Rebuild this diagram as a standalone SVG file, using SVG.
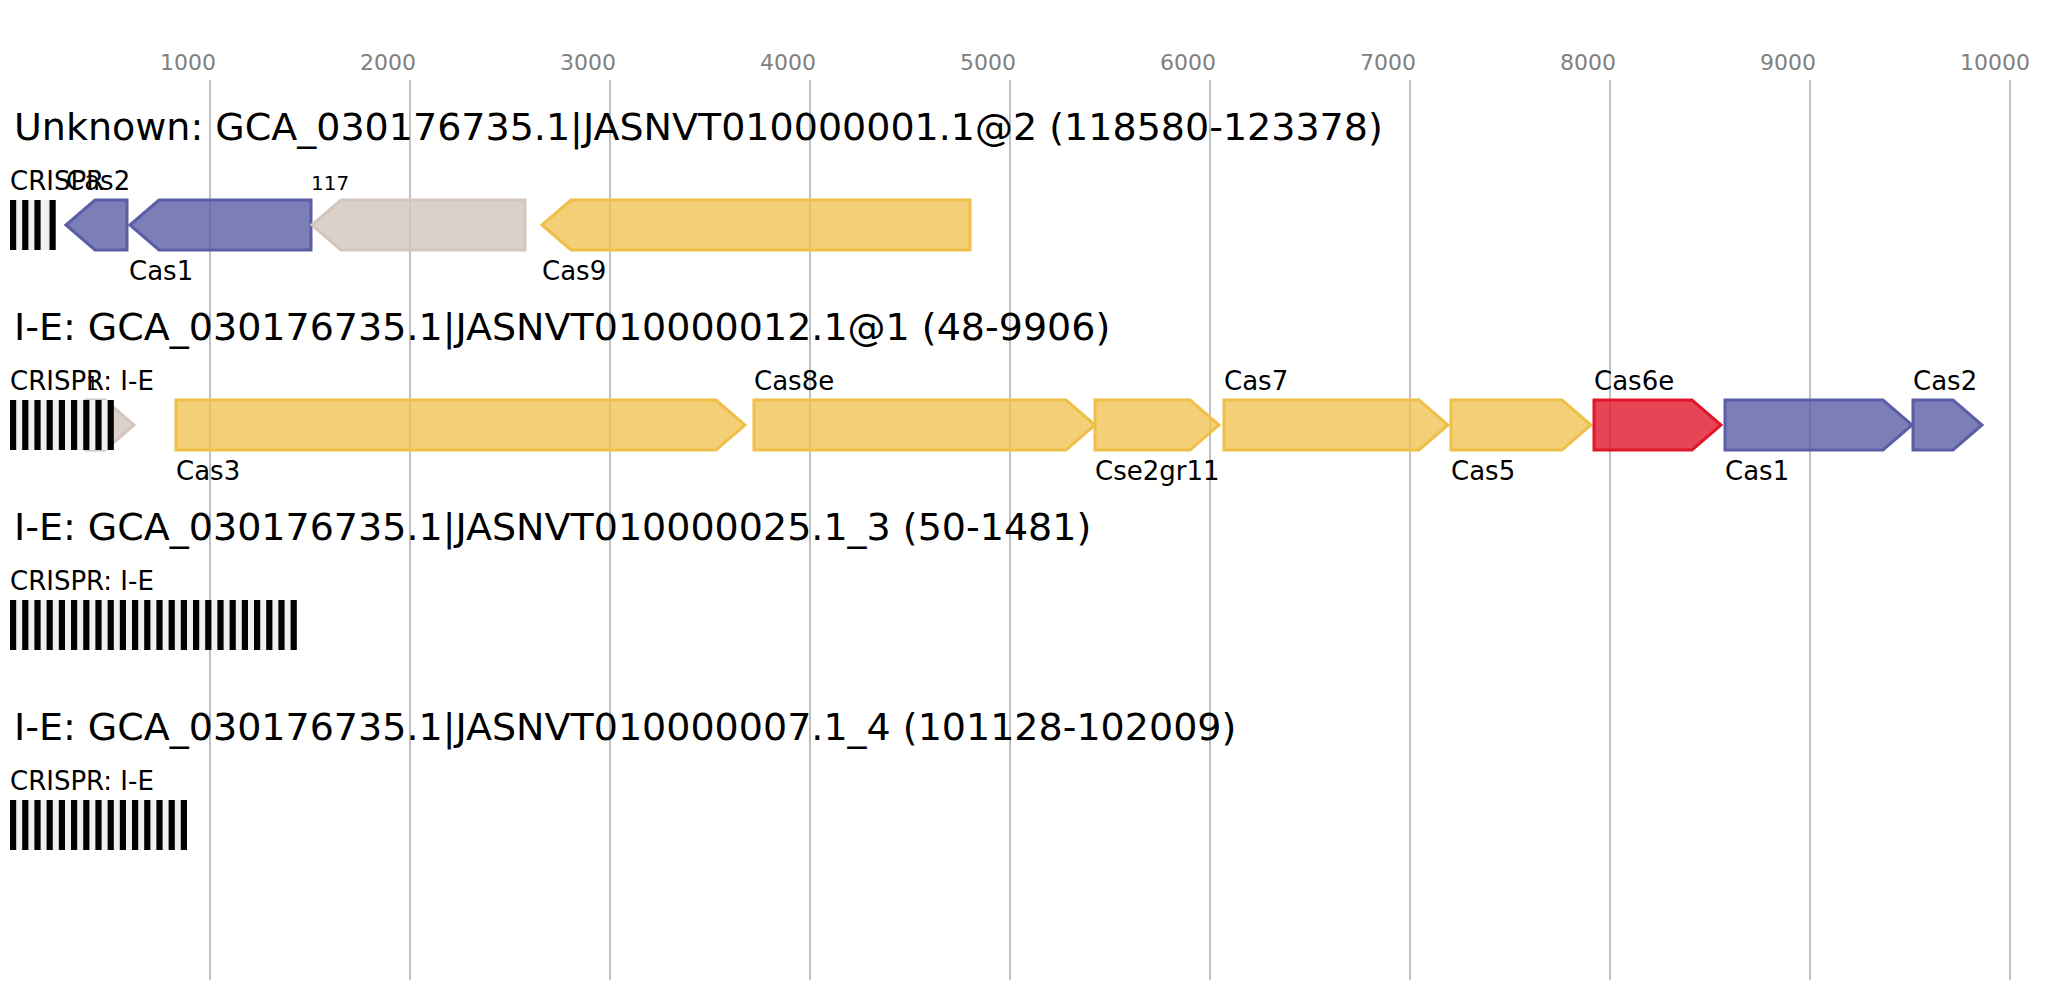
<svg xmlns="http://www.w3.org/2000/svg" width="2072" height="1000" viewBox="0 0 2072 1000">
<style>
text{font-family:"DejaVu Sans","Liberation Sans",sans-serif;fill:#000}
.ax{font-size:22px;fill:#808080}
.grid line{stroke:#c0c0c0;stroke-width:2}
.title{font-size:38px}
.lbl{font-size:26px}
.sm{font-size:20px}
.gene{stroke-width:3;stroke-linejoin:miter}
.blue{fill:#5b5ea6;fill-opacity:0.8;stroke:#5b5ea6}
.yel{fill:#efbf4a;fill-opacity:0.75;stroke:#efbf4a}
.red{fill:#e0162b;fill-opacity:0.8;stroke:#e0162b}
.beige{fill:#d3c6bd;fill-opacity:0.8;stroke:#d3c6bd}
.arr{fill:#f0f0f0}
.rep{fill:#000}
</style>
<rect width="2072" height="1000" fill="#fff"/>
<g class="grid" id="grid">
<line x1="210" y1="80" x2="210" y2="980"/>
<line x1="410" y1="80" x2="410" y2="980"/>
<line x1="610" y1="80" x2="610" y2="980"/>
<line x1="810" y1="80" x2="810" y2="980"/>
<line x1="1010" y1="80" x2="1010" y2="980"/>
<line x1="1210" y1="80" x2="1210" y2="980"/>
<line x1="1410" y1="80" x2="1410" y2="980"/>
<line x1="1610" y1="80" x2="1610" y2="980"/>
<line x1="1810" y1="80" x2="1810" y2="980"/>
<line x1="2010" y1="80" x2="2010" y2="980"/>
</g>
<g id="axis">
<text class="ax" x="160" y="70">1000</text>
<text class="ax" x="360" y="70">2000</text>
<text class="ax" x="560" y="70">3000</text>
<text class="ax" x="760" y="70">4000</text>
<text class="ax" x="960" y="70">5000</text>
<text class="ax" x="1160" y="70">6000</text>
<text class="ax" x="1360" y="70">7000</text>
<text class="ax" x="1560" y="70">8000</text>
<text class="ax" x="1760" y="70">9000</text>
<text class="ax" x="1960" y="70">10000</text>
</g>

<g id="row1">
<text class="title" x="14" y="140">Unknown: GCA_030176735.1|JASNVT010000001.1@2 (118580-123378)</text>
<g id="r1-crispr">
<rect class="arr" x="10" y="200" width="46" height="50"/>
<rect class="rep" x="10" y="200" width="6.2" height="50"/>
<rect class="rep" x="22.2" y="200" width="6.2" height="50"/>
<rect class="rep" x="34.4" y="200" width="6.2" height="50"/>
<rect class="rep" x="49.5" y="200" width="6.2" height="50"/>
<text class="lbl" x="10" y="190">CRISPR</text>
</g>
<g id="r1-cas2"><polygon class="gene blue" points="66,225 95,200 127,200 127,250 95,250"/><text class="lbl" x="66" y="190">Cas2</text></g>
<g id="r1-cas1"><polygon class="gene blue" points="130,225 159,200 311,200 311,250 159,250"/><text class="lbl" x="129" y="280">Cas1</text></g>
<g id="r1-117"><polygon class="gene beige" points="312,225 341,200 525,200 525,250 341,250"/><text class="sm" x="311" y="190">117</text></g>
<g id="r1-cas9"><polygon class="gene yel" points="542,225 571,200 970,200 970,250 571,250"/><text class="lbl" x="542" y="280">Cas9</text></g>
</g>

<g id="row2">
<text class="title" x="14" y="340">I-E: GCA_030176735.1|JASNVT010000012.1@1 (48-9906)</text>
<g id="r2-unk"><polygon class="gene beige" points="86,400 105,400 134,425 105,450 86,450"/></g>
<g id="r2-crispr">
<rect class="arr" x="10" y="400" width="103.5" height="50"/>
<rect class="rep" x="10" y="400" width="6.2" height="50"/>
<rect class="rep" x="22.2" y="400" width="6.2" height="50"/>
<rect class="rep" x="34.4" y="400" width="6.2" height="50"/>
<rect class="rep" x="46.6" y="400" width="6.2" height="50"/>
<rect class="rep" x="58.8" y="400" width="6.2" height="50"/>
<rect class="rep" x="71" y="400" width="6.2" height="50"/>
<rect class="rep" x="83.2" y="400" width="6.2" height="50"/>
<rect class="rep" x="95.4" y="400" width="6.2" height="50"/>
<rect class="rep" x="107.6" y="400" width="6.2" height="50"/>
<text class="lbl" x="10" y="390">CRISPR: I-E</text>
</g>
<text class="sm" x="86" y="390">1</text>
<g id="r2-cas3"><polygon class="gene yel" points="176,400 716,400 745,425 716,450 176,450"/><text class="lbl" x="176" y="480">Cas3</text></g>
<g id="r2-cas8e"><polygon class="gene yel" points="754,400 1066,400 1095,425 1066,450 754,450"/><text class="lbl" x="754" y="390">Cas8e</text></g>
<g id="r2-cse2"><polygon class="gene yel" points="1095,400 1190,400 1219,425 1190,450 1095,450"/><text class="lbl" x="1095" y="480">Cse2gr11</text></g>
<g id="r2-cas7"><polygon class="gene yel" points="1224,400 1419,400 1448,425 1419,450 1224,450"/><text class="lbl" x="1224" y="390">Cas7</text></g>
<g id="r2-cas5"><polygon class="gene yel" points="1451,400 1562,400 1591,425 1562,450 1451,450"/><text class="lbl" x="1451" y="480">Cas5</text></g>
<g id="r2-cas6e"><polygon class="gene red" points="1594,400 1692,400 1721,425 1692,450 1594,450"/><text class="lbl" x="1594" y="390">Cas6e</text></g>
<g id="r2-cas1"><polygon class="gene blue" points="1725,400 1883,400 1912,425 1883,450 1725,450"/><text class="lbl" x="1725" y="480">Cas1</text></g>
<g id="r2-cas2"><polygon class="gene blue" points="1913,400 1953,400 1982,425 1953,450 1913,450"/><text class="lbl" x="1913" y="390">Cas2</text></g>
</g>

<g id="row3">
<text class="title" x="14" y="540">I-E: GCA_030176735.1|JASNVT010000025.1_3 (50-1481)</text>
<g id="r3-crispr">
<rect class="arr" x="10" y="600" width="286.8" height="50"/>
<rect class="rep" x="10" y="600" width="6.2" height="50"/>
<rect class="rep" x="22.2" y="600" width="6.2" height="50"/>
<rect class="rep" x="34.4" y="600" width="6.2" height="50"/>
<rect class="rep" x="46.6" y="600" width="6.2" height="50"/>
<rect class="rep" x="58.8" y="600" width="6.2" height="50"/>
<rect class="rep" x="71" y="600" width="6.2" height="50"/>
<rect class="rep" x="83.2" y="600" width="6.2" height="50"/>
<rect class="rep" x="95.4" y="600" width="6.2" height="50"/>
<rect class="rep" x="107.6" y="600" width="6.2" height="50"/>
<rect class="rep" x="119.8" y="600" width="6.2" height="50"/>
<rect class="rep" x="132" y="600" width="6.2" height="50"/>
<rect class="rep" x="144.2" y="600" width="6.2" height="50"/>
<rect class="rep" x="156.4" y="600" width="6.2" height="50"/>
<rect class="rep" x="168.6" y="600" width="6.2" height="50"/>
<rect class="rep" x="180.8" y="600" width="6.2" height="50"/>
<rect class="rep" x="193" y="600" width="6.2" height="50"/>
<rect class="rep" x="205.2" y="600" width="6.2" height="50"/>
<rect class="rep" x="217.4" y="600" width="6.2" height="50"/>
<rect class="rep" x="229.6" y="600" width="6.2" height="50"/>
<rect class="rep" x="241.8" y="600" width="6.2" height="50"/>
<rect class="rep" x="254" y="600" width="6.2" height="50"/>
<rect class="rep" x="266.2" y="600" width="6.2" height="50"/>
<rect class="rep" x="278.4" y="600" width="6.2" height="50"/>
<rect class="rep" x="290.6" y="600" width="6.2" height="50"/>
<text class="lbl" x="10" y="590">CRISPR: I-E</text>
</g>
</g>

<g id="row4">
<text class="title" x="14" y="740">I-E: GCA_030176735.1|JASNVT010000007.1_4 (101128-102009)</text>
<g id="r4-crispr">
<rect class="arr" x="10" y="800" width="177" height="50"/>
<rect class="rep" x="10" y="800" width="6.2" height="50"/>
<rect class="rep" x="22.2" y="800" width="6.2" height="50"/>
<rect class="rep" x="34.4" y="800" width="6.2" height="50"/>
<rect class="rep" x="46.6" y="800" width="6.2" height="50"/>
<rect class="rep" x="58.8" y="800" width="6.2" height="50"/>
<rect class="rep" x="71" y="800" width="6.2" height="50"/>
<rect class="rep" x="83.2" y="800" width="6.2" height="50"/>
<rect class="rep" x="95.4" y="800" width="6.2" height="50"/>
<rect class="rep" x="107.6" y="800" width="6.2" height="50"/>
<rect class="rep" x="119.8" y="800" width="6.2" height="50"/>
<rect class="rep" x="132" y="800" width="6.2" height="50"/>
<rect class="rep" x="144.2" y="800" width="6.2" height="50"/>
<rect class="rep" x="156.4" y="800" width="6.2" height="50"/>
<rect class="rep" x="168.6" y="800" width="6.2" height="50"/>
<rect class="rep" x="180.8" y="800" width="6.2" height="50"/>
<text class="lbl" x="10" y="790">CRISPR: I-E</text>
</g>
</g>
</svg>
